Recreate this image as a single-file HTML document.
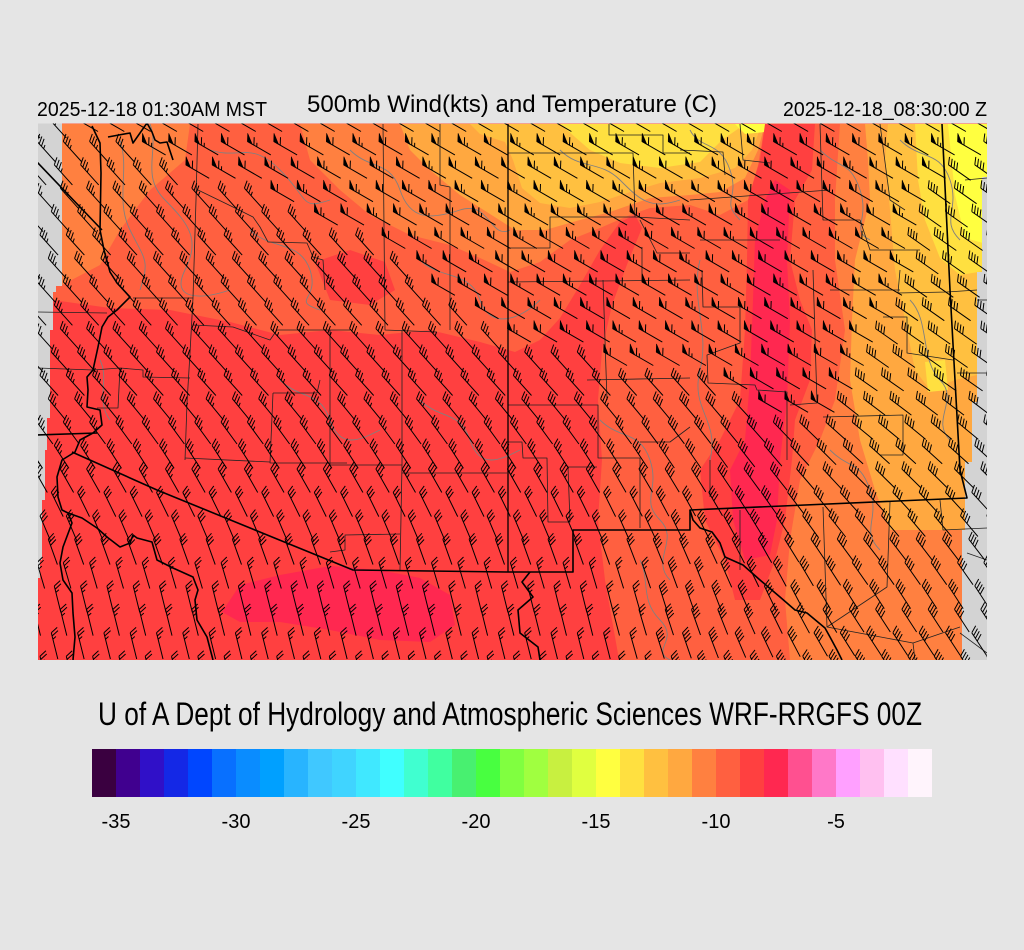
<!DOCTYPE html>
<html><head><meta charset="utf-8">
<style>
html,body{margin:0;padding:0;background:#e5e5e5;width:1024px;height:950px;overflow:hidden;}
svg{display:block;}
text{font-family:"Liberation Sans",Arial,sans-serif;fill:#000;}
</style></head>
<body>
<svg width="1024" height="950" viewBox="0 0 1024 950" xmlns="http://www.w3.org/2000/svg">
<defs>
<clipPath id="mapc"><rect x="38" y="123.5" width="949" height="536.5"/></clipPath>
<clipPath id="domc"><path d="M62,123.5 L987,123.5 L987,177 L982,177 L982,272 L977,272 L977,402 L972,402 L972,462 L965,462 L965,530 L962,530 L962,660 L38,660 L38,578 L40,578 L40,560 L42,560 L42,500 L45,500 L45,450 L47,450 L47,418 L50,418 L50,330 L53,330 L53,292 L56,292 L56,286 L62,286 Z"/></clipPath>
</defs>
<rect width="1024" height="950" fill="#e5e5e5"/>
<rect x="38" y="123.5" width="949" height="536.5" fill="#d3d3d3"/>

<g clip-path="url(#domc)">
<rect x="30" y="120" width="970" height="545" fill="#ff6040"/>
<path fill="#ff8040" d="M62,124 L190,124 L185,160 L150,190 L120,230 L100,265 L62,285 Z"/>
<path fill="#ff8040" d="M300,124 L765,124 L758,165 L748,200 L720,215 L690,205 L650,208 L630,215 L600,228 L570,240 L540,262 L510,272 L480,258 L450,245 L410,235 L370,215 L340,190 L310,160 Z"/>
<path fill="#ff8040" d="M840,124 L990,124 L990,660 L790,660 L785,600 L790,540 L800,480 L820,440 L835,400 L845,330 L835,260 L835,200 Z"/>
<path fill="#ffa840" d="M400,124 L765,124 L758,150 L745,178 L720,192 L690,195 L650,198 L610,212 L580,220 L545,230 L515,230 L490,214 L460,195 L430,170 L410,150 Z"/>
<path fill="#ffa840" d="M865,124 L990,124 L990,530 L890,530 L875,490 L860,440 L850,380 L852,320 L855,260 L870,200 L868,160 Z"/>
<path fill="#ffc040" d="M470,124 L762,124 L752,150 L735,168 L700,178 L660,183 L630,192 L600,202 L570,208 L540,203 L522,188 L513,160 L505,142 L480,134 Z"/>
<path fill="#ffc040" d="M888,124 L990,124 L990,372 L955,380 L930,390 L915,370 L905,320 L895,270 L890,210 L885,160 Z"/>
<path fill="#ffe040" d="M560,124 L745,124 L722,140 L700,162 L660,168 L620,163 L590,150 Z"/>
<path fill="#ffe040" d="M915,124 L990,124 L990,270 L960,275 L940,258 L925,220 L918,180 Z"/>
<path fill="#ffe040" d="M925,362 L945,360 L948,390 L928,392 Z"/>
<path fill="#ffff40" d="M948,124 L990,124 L990,245 L965,238 L955,195 Z"/>
<path fill="#ffff40" d="M735,124 L775,124 L765,132 L745,134 Z"/>
<path fill="#ff4040" d="M30,665 L30,300 L53,300 L110,308 L170,310 L230,322 L280,335 L330,330 L380,335 L430,330 L480,342 L515,352 L540,340 L560,318 L580,285 L600,250 L620,222 L635,215 L642,228 L628,262 L612,305 L602,350 L598,400 L602,460 L598,520 L605,580 L612,620 L620,665 Z"/>
<path fill="#ff4040" d="M315,262 L350,250 L385,262 L395,290 L370,305 L330,300 Z"/>
<path fill="#ff4040" d="M765,124 L815,124 L812,170 L795,200 L790,260 L800,300 L812,330 L810,380 L795,420 L792,460 L785,520 L775,560 L760,600 L735,600 L725,560 L705,520 L700,470 L720,440 L740,400 L745,330 L747,260 L748,200 L760,160 Z"/>
<path fill="#ff2850" d="M775,180 L790,190 L787,260 L790,320 L787,400 L780,460 L777,520 L770,555 L745,560 L733,520 L730,470 L745,440 L750,380 L753,300 L755,240 L765,200 Z"/>
<path fill="#ff2850" d="M222,612 L240,585 L280,575 L330,566 L380,570 L420,578 L450,595 L455,625 L430,642 L380,640 L330,630 L280,622 L240,622 Z"/>
</g>

<g clip-path="url(#mapc)" fill="none" stroke-linejoin="round">
<g stroke="#808080" stroke-width="0.9">
<path d="M150,124 C160,150 140,175 165,200 S200,240 185,270 S200,300 230,290"/>
<path d="M120,140 C130,170 115,200 130,230 S150,260 140,290"/>
<path d="M210,150 C240,160 250,140 280,170 S300,210 330,200"/>
<path d="M250,230 C270,250 300,240 310,270 S290,300 320,310"/>
<path d="M350,150 C370,170 390,160 400,190 S430,220 460,210 S490,240 510,230"/>
<path d="M420,260 C440,280 470,270 480,300 S520,320 540,300"/>
<path d="M560,150 C580,170 600,160 620,180 S650,210 680,200"/>
<path d="M690,130 C700,150 720,140 730,170 S720,200 740,220"/>
<path d="M700,260 C690,300 710,330 700,370 S720,420 710,460"/>
<path d="M820,150 C840,170 850,160 860,190 S850,230 870,240"/>
<path d="M900,140 C920,160 940,150 950,180 S940,220 960,240"/>
<path d="M910,300 C930,320 920,360 940,380 S930,420 950,440"/>
<path d="M600,420 C620,440 640,430 650,460 S640,500 660,520 S650,560 670,580"/>
<path d="M830,450 C850,470 860,460 870,490 S860,530 880,550"/>
<path d="M280,380 C300,400 320,390 330,420 S360,440 380,430"/>
<path d="M420,400 C440,420 460,410 470,440 S500,460 520,450"/>
<path d="M100,360 C110,380 95,400 110,420"/>
<path d="M640,560 C650,580 640,600 660,620 S650,650 670,660"/>
</g>
<g stroke="#222" stroke-width="0.8">
<path d="M198,124 L196,200 L193,298 L190,353 L187,403 L185,460"/>
<path d="M198,190 L233,207 L253,217 L260,227 L268,242 L307,243 L313,257 L323,260 L325,290"/>
<path d="M37,312 L107,313"/>
<path d="M37,368 L93,370 L120,368 L143,370 L143,377 L190,378"/>
<path d="M120,368 L118,408 L97,408"/>
<path d="M133,298 L193,298"/>
<path d="M193,325 L233,327 L270,340 L277,330 L307,330 L350,330"/>
<path d="M273,393 L270,463 L347,463"/>
<path d="M185,458 L270,462"/>
<path d="M320,380 L317,393 L273,393"/>
<path d="M383,124 L385,330 L437,332"/>
<path d="M440,124 L440,185 L450,187 L450,330"/>
<path d="M330,330 L330,465"/>
<path d="M402,330 L402,465 L400,570"/>
<path d="M330,465 L402,465"/>
<path d="M402,473 L507,473"/>
<path d="M330,552 L345,550 L345,535 L400,534"/>
<path d="M508,153 L633,153 L635,217 L550,217 L550,248 L508,248"/>
<path d="M508,282 L690,280"/>
<path d="M609,124 L609,135 L663,135 L663,153 L690,153"/>
<path d="M635,217 L690,220"/>
<path d="M640,220 L657,253 L690,253"/>
<path d="M642,247 L642,280"/>
<path d="M603,280 L607,400"/>
<path d="M587,380 L690,378"/>
<path d="M508,405 L598,405 L598,458 L640,458 L640,528"/>
<path d="M508,442 L522,442 L523,458 L547,458 L548,522 L570,522 L568,467 L597,467"/>
<path d="M640,442 L670,442 L690,427"/>
<path d="M702,270 L703,307 L740,307 L740,343 L707,355 L708,383 L755,385 L757,390 L787,392 L787,460"/>
<path d="M813,270 L817,403 L790,405"/>
<path d="M823,417 L903,415 L903,455 L880,455"/>
<path d="M900,270 L898,293 L947,292 L977,290"/>
<path d="M883,317 L907,317 L907,353 L953,360"/>
<path d="M957,373 L987,373"/>
<path d="M680,150 L723,152 L725,175"/>
<path d="M740,124 L743,160 L770,163"/>
<path d="M820,124 L823,220 L860,220 L870,250 L920,250"/>
<path d="M880,124 L890,200 L905,210"/>
<path d="M690,200 L760,195 L830,190"/>
<path d="M700,240 L780,240"/>
<path d="M830,290 L900,290"/>
<path d="M890,502 L887,587 L827,627 L913,643 L960,627"/>
<path d="M823,507 L827,627"/>
<path d="M913,643 L915,660"/>
<path d="M940,500 L943,530 L987,528"/>
<path d="M967,553 L987,560"/>
<path d="M960,633 L987,653"/>
<path d="M740,510 L740,570"/>
<path d="M710,460 L710,497"/>
<path d="M965,180 L987,178"/>
<path d="M977,300 L987,300"/>
</g>
<g stroke="#000" stroke-width="1.6">
<path d="M92,126 L100,143 L101,173 L100,230 L104,250 L110,272 L117,283 L130,297 L117,310 L108,317 L102,327 L98,347 L93,370 L87,377 L88,390 L87,407 L100,410 L102,425 L93,433 L80,440 L75,452 L62,460 L57,477 L58,497 L62,510 L68,513 L72,523 L63,547 L60,563 L63,580 L72,593 L73,613 L75,637 L73,660"/>
<path d="M108,137 L130,133 L133,143 L147,123 L152,132 L155,140 L160,143 L167,142 L173,160"/>
<path d="M37,162 L102,230"/>
<path d="M37,435 L97,433"/>
<path d="M68,513 L82,518 L97,528 L107,537 L120,547 L130,543 L133,535 L137,538 L152,542 L157,560 L173,568 L193,577 L198,590 L195,600 L197,620 L207,637 L213,660"/>
<path d="M72,452 L157,490 L353,570 L507,572 L573,572 L573,530 L690,530 L690,510 L967,498 L960,470 L950,290 L942,124"/>
<path d="M690,510 L693,520 L700,528 L712,532 L720,543 L725,557 L743,565 L760,580 L780,597 L795,610 L807,613 L825,628 L830,637 L837,650 L842,660"/>
<path d="M530,572 L522,582 L533,597 L518,610 L520,633 L538,647 L540,660"/>
<path d="M508,124 L508,572" stroke-width="1.3"/>
</g>
<path id="barbs" stroke="#000" stroke-width="1" d=""/>
<path id="flags" fill="#000" stroke="#000" stroke-width="0.6" d=""/>
</g>

<text x="37" y="116" font-size="20" textLength="230" lengthAdjust="spacingAndGlyphs">2025-12-18 01:30AM MST</text>
<text x="307" y="112" font-size="24" textLength="410" lengthAdjust="spacingAndGlyphs">500mb Wind(kts) and Temperature (C)</text>
<text x="783" y="116" font-size="20" textLength="204" lengthAdjust="spacingAndGlyphs">2025-12-18_08:30:00 Z</text>

<text x="98" y="725" font-size="32" textLength="824" lengthAdjust="spacingAndGlyphs">U of A Dept of Hydrology and Atmospheric Sciences WRF-RRGFS 00Z</text>

<g>
<rect x="92" y="749" width="24" height="48" fill="#3a0040"/>
<rect x="116" y="749" width="24" height="48" fill="#40008f"/>
<rect x="140" y="749" width="24" height="48" fill="#3010c8"/>
<rect x="164" y="749" width="24" height="48" fill="#1428e6"/>
<rect x="188" y="749" width="24" height="48" fill="#0046ff"/>
<rect x="212" y="749" width="24" height="48" fill="#0870ff"/>
<rect x="236" y="749" width="24" height="48" fill="#0a8cff"/>
<rect x="260" y="749" width="24" height="48" fill="#00a0ff"/>
<rect x="284" y="749" width="24" height="48" fill="#28b4ff"/>
<rect x="308" y="749" width="24" height="48" fill="#40c8ff"/>
<rect x="332" y="749" width="24" height="48" fill="#40d4ff"/>
<rect x="356" y="749" width="24" height="48" fill="#40e8ff"/>
<rect x="380" y="749" width="24" height="48" fill="#40ffff"/>
<rect x="404" y="749" width="24" height="48" fill="#40ffd0"/>
<rect x="428" y="749" width="24" height="48" fill="#40ffa0"/>
<rect x="452" y="749" width="24" height="48" fill="#48f070"/>
<rect x="476" y="749" width="24" height="48" fill="#48ff40"/>
<rect x="500" y="749" width="24" height="48" fill="#80ff40"/>
<rect x="524" y="749" width="24" height="48" fill="#a0ff40"/>
<rect x="548" y="749" width="24" height="48" fill="#c8f040"/>
<rect x="572" y="749" width="24" height="48" fill="#e0ff40"/>
<rect x="596" y="749" width="24" height="48" fill="#ffff40"/>
<rect x="620" y="749" width="24" height="48" fill="#ffe040"/>
<rect x="644" y="749" width="24" height="48" fill="#ffc040"/>
<rect x="668" y="749" width="24" height="48" fill="#ffa840"/>
<rect x="692" y="749" width="24" height="48" fill="#ff8040"/>
<rect x="716" y="749" width="24" height="48" fill="#ff6040"/>
<rect x="740" y="749" width="24" height="48" fill="#ff4040"/>
<rect x="764" y="749" width="24" height="48" fill="#ff2850"/>
<rect x="788" y="749" width="24" height="48" fill="#ff5090"/>
<rect x="812" y="749" width="24" height="48" fill="#ff78c8"/>
<rect x="836" y="749" width="24" height="48" fill="#ffa0ff"/>
<rect x="860" y="749" width="24" height="48" fill="#ffc0f0"/>
<rect x="884" y="749" width="24" height="48" fill="#ffe0ff"/>
<rect x="908" y="749" width="24" height="48" fill="#fff4fc"/>
</g>
<g font-size="20" text-anchor="middle">
<text x="116" y="828">-35</text>
<text x="236" y="828">-30</text>
<text x="356" y="828">-25</text>
<text x="476" y="828">-20</text>
<text x="596" y="828">-15</text>
<text x="716" y="828">-10</text>
<text x="836" y="828">-5</text>
</g>
</svg>
<script>
(function(){
var bx=[30,100,150,250,290,345,385,410,440,520,600,690,720,760,810,830,855,880,895,910,960,1010];
var by=[110,130,155,185,205,228,252,275,298,338,355,370,385,405,405,385,345,318,250,180,150,125];
function yb(x){ if(x<=bx[0])return by[0]; for(var i=1;i<bx.length;i++){ if(x<=bx[i]){var t=(x-bx[i-1])/(bx[i]-bx[i-1]);return by[i-1]+t*(by[i]-by[i-1]);}} return by[by.length-1]; }
function cl(v){return v<0?0:(v>1?1:v);}
function r(n){return Math.round(n*10)/10;}
var s="",f="";
for(var k=0;k<24;k++){
 var y0=118+23.4*k;
 var off=(k%2)*12+(k%3)*3;
 for(var c=0;c<38;c++){
  var x0=22+26.3*c+off;
  var flag=y0<yb(x0);
  var th;
  if(flag){th=30;}
  else{var b=48-13*cl((x0-700)/150);var e=28-6*cl((x0-600)/100);th=b+cl((y0-380)/200)*e;}
  var a=th*Math.PI/180,ux=Math.cos(a),uy=Math.sin(a);
  var p=(th-118)*Math.PI/180,px=Math.cos(p),py=Math.sin(p);
  var L=27,T=8;
  s+="M"+r(x0)+" "+r(y0)+"l"+r(L*ux)+" "+r(L*uy);
  var pos=0,nf=0,nh=0;
  if(flag){
   f+="M"+r(x0)+" "+r(y0)+"l"+r(T*px)+" "+r(T*py)+"L"+r(x0+5.5*ux)+" "+r(y0+5.5*uy)+"Z";
   pos=7.5;nf=1;nh=(c+k)%2;
  }else{
   if(x0>650){nf=4;}else if(y0<470){nf=3;nh=1;}else if(y0<560){nf=3;}else{nf=2;nh=1;}
  }
  for(var i=0;i<nf;i++){var sx=x0+pos*ux,sy=y0+pos*uy;s+="M"+r(sx)+" "+r(sy)+"l"+r(T*px)+" "+r(T*py);pos+=3.3;}
  for(var j=0;j<nh;j++){var sx2=x0+pos*ux,sy2=y0+pos*uy;s+="M"+r(sx2)+" "+r(sy2)+"l"+r(T*0.5*px)+" "+r(T*0.5*py);pos+=3.3;}
 }
}
document.getElementById("barbs").setAttribute("d",s);
document.getElementById("flags").setAttribute("d",f);
})();
</script>
</body></html>
